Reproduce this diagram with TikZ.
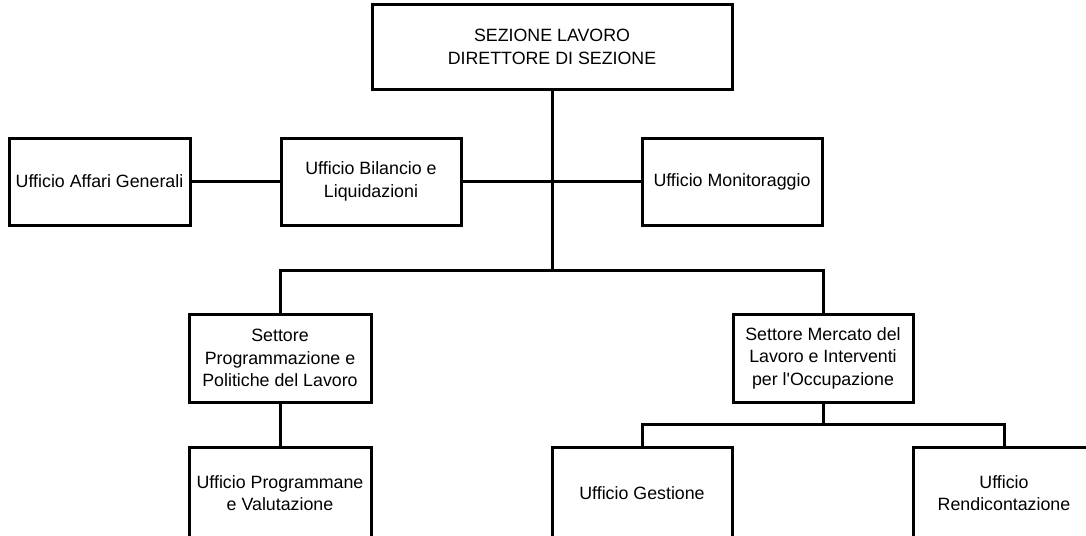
\documentclass[tikz,border=0pt]{standalone}
\usepackage{fontspec}
\setmainfont{Liberation Sans}
\begin{document}
\begin{tikzpicture}[x=1pt,y=-1pt,
  unit/.style={draw=black, line width=3pt, rectangle, inner sep=2pt,
    align=center, font=\fontsize{17.8}{22.5}\selectfont},
  link/.style={draw=black, line width=3pt}]
\useasboundingbox (0,0) rectangle (1086,535);
\fill[white] (0,0) rectangle (1086,535);

% top management
\node[unit, minimum width=360pt, minimum height=84pt] (top) at (552,47)
  {SEZIONE LAVORO\\DIRETTORE DI SEZIONE};

% staff offices
\node[unit, minimum width=181pt, minimum height=87pt] (affari) at (99.5,181.5)
  {Ufficio Affari Generali};
\node[unit, minimum width=180pt, minimum height=87pt] (bilancio) at (371,181.5)
  {Ufficio Bilancio e\\Liquidazioni};
\node[unit, minimum width=180pt, minimum height=87pt] (monitor) at (732,181.5)
  {Ufficio Monitoraggio};

% sectors
\node[unit, minimum width=182pt, minimum height=88pt] (setP) at (280,358)
  {Settore\\Programmazione e\\Politiche del Lavoro};
\node[unit, minimum width=180pt, minimum height=88pt] (setM) at (823,358)
  {Settore Mercato del\\Lavoro e Interventi\\per l\textquotesingle Occupazione};

% offices under the sectors
\node[unit, minimum width=182pt, minimum height=92pt] (progr) at (280,493)
  {Ufficio Programmane\\e Valutazione};
\node[unit, minimum width=180pt, minimum height=92pt] (gest) at (642,493)
  {Ufficio Gestione};
\node[unit, minimum width=182pt, minimum height=92pt] (rend) at (1004,493)
  {Ufficio\\Rendicontazione};

% junction points
\coordinate (j1) at (552,270);
\coordinate (j2) at (823,424);

% connectors
\draw[link] (top.south) -- (j1);
\draw[link] (affari.east) -- (bilancio.west);
\draw[link] (bilancio.east) -- (monitor.west);
\draw[link] (setP.north) |- (j1);
\draw[link] (setM.north) |- (j1);
\draw[link] (setP.south) -- (progr.north);
\draw[link] (setM.south) -- (j2);
\draw[link] (gest.north) |- (j2);
\draw[link] (rend.north) |- (j2);
\end{tikzpicture}
\end{document}
